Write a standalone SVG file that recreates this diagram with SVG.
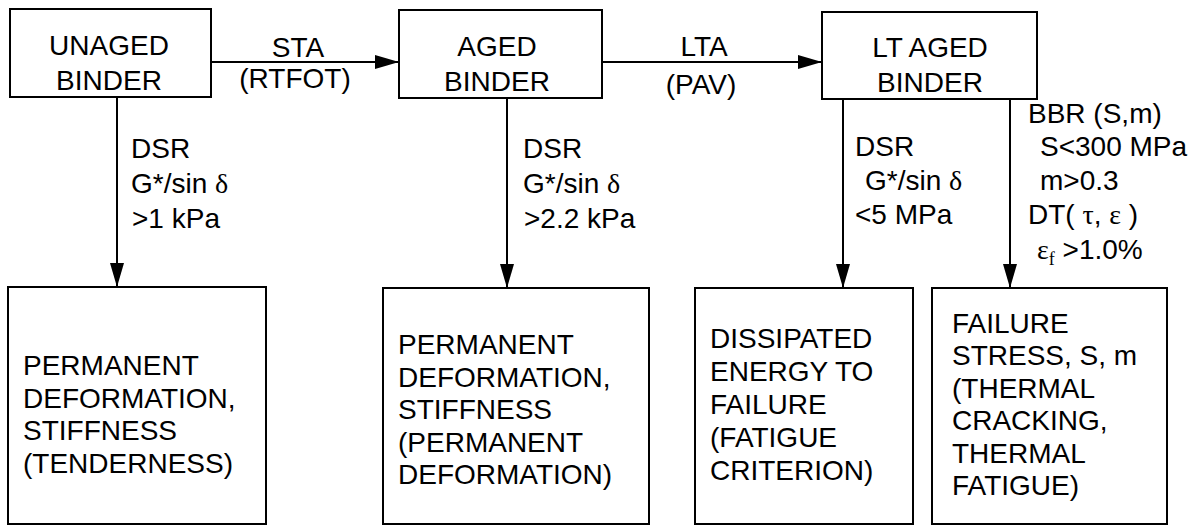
<svg xmlns="http://www.w3.org/2000/svg" width="1197" height="525" viewBox="0 0 1197 525">
<defs>
<marker id="ah" viewBox="0 0 24 14" refX="24" refY="7" markerWidth="24" markerHeight="14" markerUnits="userSpaceOnUse" orient="auto">
<path d="M0,0 L24,7 L0,14 Z" fill="#000"/>
</marker>
<style>
.box{fill:#fff;stroke:#000;stroke-width:2}
.t{font-family:"Liberation Sans",Arial,Helvetica,sans-serif;font-size:28px;fill:#000}
.c{text-anchor:middle}
.g{font-family:"Liberation Serif","Times New Roman",serif}
.ln{stroke:#000;stroke-width:2;fill:none;marker-end:url(#ah)}
</style>
</defs>
<rect width="1197" height="525" fill="#fff"/>
<g id="connectors">
<line class="ln" x1="211" y1="62" x2="399" y2="62"/>
<line class="ln" x1="602" y1="62" x2="822" y2="62"/>
<line class="ln" x1="117" y1="97" x2="117" y2="287"/>
<line class="ln" x1="507" y1="98" x2="507" y2="288"/>
<line class="ln" x1="843" y1="99" x2="843" y2="288"/>
<line class="ln" x1="1010" y1="99" x2="1010" y2="288"/>
<text class="t c" x="298" y="57">STA</text>
<text class="t c" x="295" y="88">(RTFOT)</text>
<text class="t c" x="704" y="56">LTA</text>
<text class="t c" x="701" y="94">(PAV)</text>
<text class="t" x="131" y="158">DSR</text>
<text class="t" x="131" y="193">G*/sin <tspan class="g">δ</tspan></text>
<text class="t" x="132" y="228">&gt;1 kPa</text>
<text class="t" x="523" y="158">DSR</text>
<text class="t" x="523" y="193">G*/sin <tspan class="g">δ</tspan></text>
<text class="t" x="524" y="228">&gt;2.2 kPa</text>
<text class="t" x="855" y="156">DSR</text>
<text class="t" x="865" y="190">G*/sin <tspan class="g">δ</tspan></text>
<text class="t" x="855" y="224">&lt;5 MPa</text>
<text class="t" x="1028" y="123">BBR (S,m)</text>
<text class="t" x="1040" y="156">S&lt;300 MPa</text>
<text class="t" x="1040" y="190">m&gt;0.3</text>
<text class="t" x="1028" y="224">DT( <tspan class="g">τ</tspan>, <tspan class="g">ε</tspan> )</text>
<text class="t" x="1037" y="259"><tspan class="g">ε</tspan><tspan class="g" font-size="18" dy="6">f</tspan><tspan dy="-6"> &gt;1.0%</tspan></text>
</g>
<g id="unaged">
<rect class="box" x="10" y="9" width="201" height="88"/>
<text class="t c" x="109" y="55">UNAGED</text>
<text class="t c" x="109" y="90">BINDER</text>
</g>
<g id="aged">
<rect class="box" x="399" y="10" width="203" height="88"/>
<text class="t c" x="497" y="56">AGED</text>
<text class="t c" x="497" y="91">BINDER</text>
</g>
<g id="ltaged">
<rect class="box" x="822" y="12" width="215" height="87"/>
<text class="t c" x="930" y="57">LT AGED</text>
<text class="t c" x="930" y="92">BINDER</text>
</g>
<g id="out1">
<rect class="box" x="8" y="287" width="258" height="237"/>
<text class="t" x="23" y="375">PERMANENT</text>
<text class="t" x="23" y="408">DEFORMATION,</text>
<text class="t" x="23" y="440">STIFFNESS</text>
<text class="t" x="23" y="473">(TENDERNESS)</text>
</g>
<g id="out2">
<rect class="box" x="383" y="288" width="266" height="236"/>
<text class="t" x="398" y="354">PERMANENT</text>
<text class="t" x="398" y="387">DEFORMATION,</text>
<text class="t" x="398" y="419">STIFFNESS</text>
<text class="t" x="398" y="452">(PERMANENT</text>
<text class="t" x="398" y="484">DEFORMATION)</text>
</g>
<g id="out3">
<rect class="box" x="695" y="288" width="218" height="236"/>
<text class="t" x="710" y="348">DISSIPATED</text>
<text class="t" x="710" y="381">ENERGY TO</text>
<text class="t" x="710" y="414">FAILURE</text>
<text class="t" x="710" y="447">(FATIGUE</text>
<text class="t" x="710" y="480">CRITERION)</text>
</g>
<g id="out4">
<rect class="box" x="932" y="288" width="235" height="236"/>
<text class="t" x="952" y="333">FAILURE</text>
<text class="t" x="952" y="365">STRESS, S, m</text>
<text class="t" x="952" y="398">(THERMAL</text>
<text class="t" x="952" y="430">CRACKING,</text>
<text class="t" x="952" y="463">THERMAL</text>
<text class="t" x="952" y="495">FATIGUE)</text>
</g>
</svg>
